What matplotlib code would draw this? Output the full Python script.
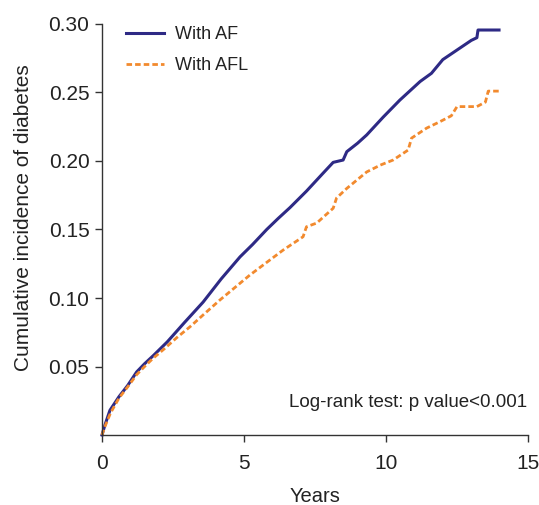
import matplotlib
matplotlib.use("Agg")
import matplotlib.pyplot as plt

# values
af_years = [0, 0.1, 0.28, 0.6, 0.9, 1.22, 1.5, 1.81, 2.3, 2.9, 3.56, 4.2, 4.86,
            5.3, 5.8, 6.2, 6.62, 7.2, 7.78, 8.14, 8.49, 8.62, 9.0, 9.32, 9.9,
            10.49, 11.2, 11.6, 12.0, 12.5, 13.0, 13.2, 13.24, 13.98]
af_incidence = [0, 0.007, 0.018, 0.028, 0.036, 0.046, 0.052, 0.058, 0.068, 0.082,
                0.097, 0.114, 0.130, 0.139, 0.150, 0.158, 0.166, 0.178, 0.191,
                0.199, 0.2007, 0.2068, 0.213, 0.219, 0.232, 0.2445, 0.258, 0.264,
                0.274, 0.281, 0.288, 0.290, 0.2956, 0.2956]

afl_years = [0, 0.1, 0.3, 0.6, 0.9, 1.22, 1.5, 1.8, 2.2, 2.63, 3.1, 3.56, 4.15,
             5.21, 5.8, 6.38, 7.08, 7.2, 7.56, 8.14, 8.26, 8.62, 9.32, 9.8, 10.25,
             10.78, 10.9, 11.43, 11.9, 12.3, 12.5, 13.2, 13.5, 13.6, 14.0]
afl_incidence = [0, 0.006, 0.016, 0.027, 0.035, 0.044, 0.050, 0.056, 0.063, 0.071,
                 0.079, 0.0876, 0.0985, 0.1168, 0.126, 0.135, 0.1447, 0.152, 0.1547,
                 0.1655, 0.173, 0.180, 0.192, 0.197, 0.2007, 0.208, 0.2167, 0.224,
                 0.2287, 0.233, 0.2397, 0.2397, 0.243, 0.251, 0.251]

x_ticks = [0, 5, 10, 15]
y_ticks = [0.05, 0.10, 0.15, 0.20, 0.25, 0.30]

plt.rcParams["font.family"] = ["Liberation Sans", "DejaVu Sans"]
text_color = "#222222"

fig = plt.figure(figsize=(5.39, 5.05), dpi=100)
ax = fig.add_axes([0.1892, 0.1386, 0.7904, 0.8139])

ax.plot(af_years, af_incidence, color="#2e2a85", linewidth=2.2,
        label="With AF", clip_on=False)
ax.plot(afl_years, afl_incidence, color="#f28a2e", linewidth=2.0,
        linestyle=(0, (2, 1.1)), label="With AFL", clip_on=False)

ax.set_xlim(0, 15)
ax.set_ylim(0, 0.30)
ax.set_xticks(x_ticks)
ax.set_yticks(y_ticks)
ax.set_yticklabels([f"{v:.2f}" for v in y_ticks])

for side in ("top", "right"):
    ax.spines[side].set_visible(False)
for side in ("left", "bottom"):
    ax.spines[side].set_color("#333333")
    ax.spines[side].set_linewidth(1.0)
ax.tick_params(axis="both", direction="out", length=5, width=1.0,
               colors="#333333", labelcolor=text_color, labelsize=15, pad=4)
ax.tick_params(axis="x", pad=9)

ax.set_xlabel("Years", fontsize=14.5, color=text_color, labelpad=10)
ax.set_ylabel("Cumulative incidence of diabetes", fontsize=15,
              color=text_color, labelpad=11)
ax.yaxis.label.set_y(0.53)

ax.legend(loc="upper left", bbox_to_anchor=(0.018, 1.035), frameon=False,
          fontsize=13, handlelength=2.1, handletextpad=0.6, labelspacing=0.8,
          labelcolor=text_color)

ax.text(0.998, 0.078, "Log-rank test: p value<0.001", transform=ax.transAxes,
        ha="right", va="center", fontsize=13.5, color=text_color)

fig.savefig("out.png", dpi=100)
plt.close(fig)
